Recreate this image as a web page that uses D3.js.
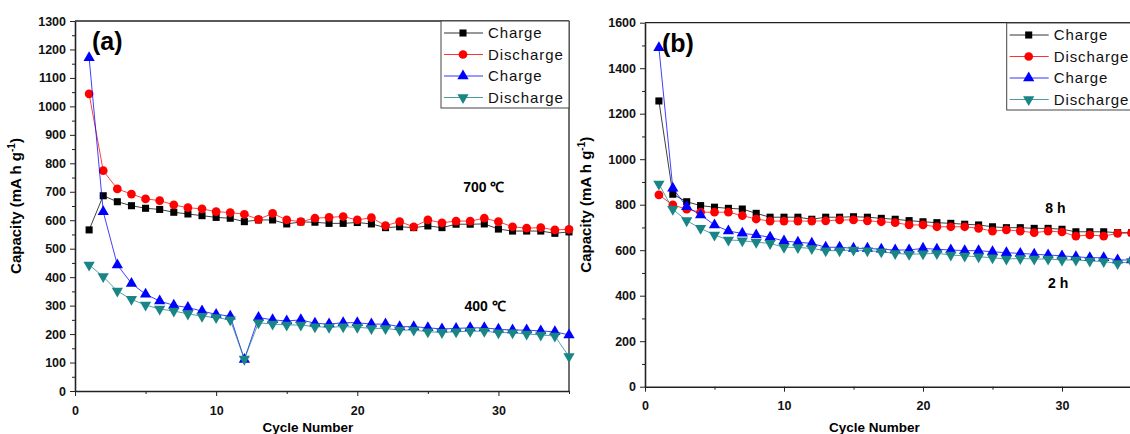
<!DOCTYPE html>
<html>
<head>
<meta charset="utf-8">
<script src="https://cdn.jsdelivr.net/npm/d3@7"></script>
<style>
body { margin: 0; background: #fff; }
svg { display: block; font-family: "Liberation Sans", Arial, sans-serif; }
.tick text { font-weight: bold; font-size: 12.5px; fill: #111; }
.axis path, .axis line { stroke: #222; }
</style>
</head>
<body>
<svg id="chart" width="1130" height="434"></svg>
<script>
// cycle numbers 1..35
var cycles = d3.range(1, 36);

// panel (a): 700 C and 400 C
var a700Charge = [566, 686, 665, 651, 642, 638, 628, 622, 616, 610, 607, 595, 601, 601, 587, 594, 593,
                  589, 589, 592, 587, 574, 577, 574, 580, 574, 586, 586, 587, 569, 562, 562, 562, 554, 559];
var a700Discharge = [1044, 774, 710, 692, 675, 669, 654, 644, 640, 630, 627, 621, 603, 624, 601, 595, 607,
                     610, 613, 601, 609, 581, 595, 577, 601, 591, 597, 597, 607, 595, 577, 572, 574, 566, 568];
var a400Charge = [1171, 630, 443, 378, 340, 316, 301, 293, 281, 269, 263, 111, 258, 250, 246, 250, 238,
                  235, 240, 240, 235, 235, 226, 226, 222, 218, 220, 222, 222, 217, 214, 214, 211, 208, 197];
var a400Discharge = [443, 402, 351, 322, 302, 288, 281, 271, 263, 258, 250, 112, 240, 235, 232, 232, 226,
                     224, 226, 224, 220, 220, 214, 214, 208, 206, 208, 210, 210, 205, 205, 200, 197, 193, 121];

// panel (b): 8 h and 2 h
var b8Charge = [1256, 846, 813, 796, 789, 784, 781, 762, 745, 745, 745, 736, 745, 745, 747, 745, 740,
                736, 730, 725, 721, 718, 714, 711, 703, 699, 699, 696, 696, 692, 681, 681, 681, 677, 677];
var b8Discharge = [843, 799, 780, 767, 767, 767, 752, 737, 728, 728, 728, 728, 729, 733, 733, 729, 725,
                   721, 711, 711, 703, 703, 703, 696, 684, 689, 684, 677, 684, 680, 662, 667, 662, 674, 676];
var b2Charge = [1490, 872, 791, 755, 711, 684, 674, 667, 657, 640, 635, 630, 613, 613, 608, 608, 604,
                601, 601, 608, 604, 601, 598, 598, 593, 589, 586, 582, 579, 575, 571, 567, 567, 557, 557];
var b2Discharge = [891, 780, 730, 696, 667, 645, 642, 635, 630, 613, 612, 608, 598, 598, 601, 598, 593,
                   586, 582, 584, 586, 579, 575, 571, 567, 561, 564, 561, 561, 557, 557, 553, 550, 542, 550];

var legendLabels = ['Charge', 'Discharge', 'Charge', 'Discharge'];
var colors = ['#000000', '#ff0000', '#0000ff', '#1a8585'];
var shapes = ['square', 'circle', 'up', 'down'];

var svg = d3.select('#chart');

function marker(shape) {
	if (shape == 'square') return d3.symbol().type(d3.symbolSquare).size(50)();
	if (shape == 'circle') return d3.symbol().type(d3.symbolCircle).size(60)();
	return d3.symbol().type(d3.symbolTriangle).size(55)();
}

function drawPanel(p) {
	var x = d3.scaleLinear().domain([0, 35]).range([p.left, p.right]);
	var y = d3.scaleLinear().domain([0, p.ymax]).range([p.bottom, p.top]);
	var g = svg.append('g');

	// frame (top and right)
	g.append('line').attr('x1', p.left).attr('x2', p.right).attr('y1', p.top).attr('y2', p.top)
		.attr('stroke', '#222').attr('stroke-width', 1.3);
	g.append('line').attr('x1', p.right).attr('x2', p.right).attr('y1', p.top).attr('y2', p.bottom)
		.attr('stroke', '#222').attr('stroke-width', 1.3);

	// minor ticks
	g.append('g').attr('class', 'axis').attr('transform', 'translate(0,' + p.bottom + ')')
		.call(d3.axisBottom(x).tickValues([5, 15, 25, 35]).tickSize(3).tickFormat(''))
		.select('.domain').remove();
	g.append('g').attr('class', 'axis').attr('transform', 'translate(' + p.left + ',0)')
		.call(d3.axisLeft(y).tickValues(d3.range(p.ystep / 2, p.ymax, p.ystep)).tickSize(3).tickFormat(''))
		.select('.domain').remove();

	// major axes
	var xa = g.append('g').attr('class', 'axis').attr('transform', 'translate(0,' + p.bottom + ')')
		.call(d3.axisBottom(x).tickValues([0, 10, 20, 30]).tickSize(5).tickSizeOuter(0).tickFormat(d3.format('d')));
	xa.selectAll('text').attr('dy', '1.25em');
	var ya = g.append('g').attr('class', 'axis').attr('transform', 'translate(' + p.left + ',0)')
		.call(d3.axisLeft(y).tickValues(d3.range(0, p.ymax + 1, p.ystep)).tickSize(5).tickSizeOuter(0)
			.tickFormat(d3.format('d')));
	ya.selectAll('text').attr('x', -9);
	ya.selectAll('.domain').attr('stroke-width', 1.6);
	xa.selectAll('.domain').attr('stroke-width', 1.6);

	// series
	var line = d3.line().x(function(d, i) { return x(cycles[i]); }).y(function(d) { return y(d); });
	p.series.forEach(function(s, k) {
		g.append('path').datum(s).attr('d', line)
			.attr('fill', 'none').attr('stroke', colors[k]).attr('stroke-width', 1).attr('opacity', 0.75);
		g.selectAll(null).data(s).enter().append('path')
			.attr('d', marker(shapes[k]))
			.attr('transform', function(d, i) {
				return 'translate(' + x(cycles[i]) + ',' + y(d) + ')' + (shapes[k] == 'down' ? ' rotate(180)' : '');
			})
			.attr('fill', colors[k]);
	});

	// legend
	var lg = g.append('g').attr('transform', 'translate(' + p.legX + ',' + p.legY + ')');
	lg.append('rect').attr('width', 128).attr('height', 87).attr('fill', '#fff').attr('stroke', '#444');
	legendLabels.forEach(function(t, k) {
		var row = lg.append('g').attr('transform', 'translate(0,' + (12 + k * 21.5) + ')');
		row.append('line').attr('x1', 3).attr('x2', 42).attr('stroke', colors[k]).attr('opacity', 0.8);
		row.append('path').attr('d', marker(shapes[k]))
			.attr('transform', 'translate(22,0)' + (shapes[k] == 'down' ? ' rotate(180)' : ''))
			.attr('fill', colors[k]);
		row.append('text').attr('x', 47).attr('dy', '0.35em').attr('font-size', '15px')
			.attr('letter-spacing', '0.9px').attr('fill', '#111').text(t);
	});

	// panel letter
	g.append('text').attr('x', p.left + 17).attr('y', p.top + 29).attr('font-size', '25px')
		.attr('font-weight', 'bold').text(p.letter);

	// notes
	p.notes.forEach(function(n) {
		g.append('text').attr('x', x(n.cx)).attr('y', y(n.cy)).attr('font-size', '14px')
			.attr('font-weight', 'bold').attr('dy', '0.35em').text(n.t);
	});

	// axis titles
	g.append('text').attr('x', x(16.5)).attr('y', 432).attr('text-anchor', 'middle')
		.attr('font-size', '13.5px').attr('font-weight', 'bold').text('Cycle Number');
	var yt = g.append('text').attr('transform', 'translate(' + (p.left - 54) + ',' + ((p.top + p.bottom) / 2) + ') rotate(-90)')
		.attr('text-anchor', 'middle').attr('font-size', '15px').attr('font-weight', 'bold');
	yt.append('tspan').text('Capacity (mA h g');
	yt.append('tspan').attr('dy', '-6').attr('font-size', '10px').text('-1');
	yt.append('tspan').attr('dy', '6').text(')');
}

drawPanel({
	left: 75, right: 569, top: 21, bottom: 391, ymax: 1300, ystep: 100, letter: '(a)',
	legX: 441, legY: 21,
	series: [a700Charge, a700Discharge, a400Charge, a400Discharge],
	notes: [{ t: '700 \u2103', cx: 27.5, cy: 715 }, { t: '400 \u2103', cx: 27.6, cy: 300 }]
});

drawPanel({
	left: 645, right: 1131.5, top: 22.7, bottom: 386.7, ymax: 1600, ystep: 200, letter: '(b)',
	legX: 1006.7, legY: 23,
	series: [b8Charge, b8Discharge, b2Charge, b2Discharge],
	notes: [{ t: '8 h', cx: 28.8, cy: 785 }, { t: '2 h', cx: 29, cy: 455 }]
});
</script>
</body>
</html>
